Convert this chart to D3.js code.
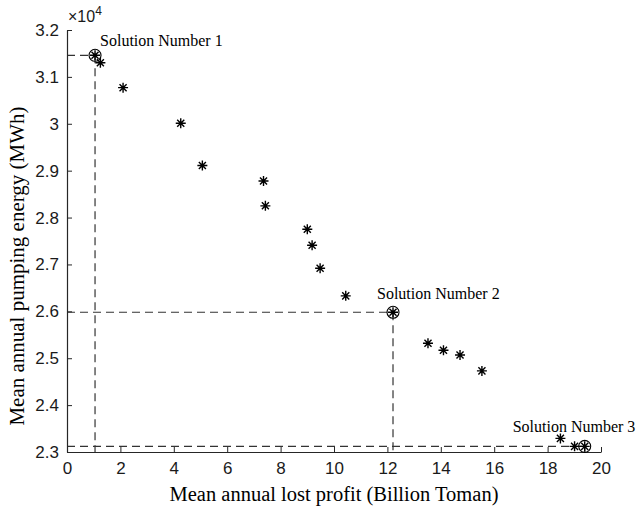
<!DOCTYPE html>
<html>
<head>
<meta charset="utf-8">
<script src="https://cdn.jsdelivr.net/npm/d3@7"></script>
<style>
  body { margin: 0; background: #fff; }
  svg { display: block; }
</style>
</head>
<body>
<div class="chartContainer"></div>
<script>
const WIDTH = 640;
const HEIGHT = 507;
const MARGIN = {left: 67, right: 39, top: 30, bottom: 55};

// Pareto front points: lost profit (Billion Toman) vs pumping energy (MWh)
const lostProfit = [1.05, 1.25, 2.1, 4.26, 5.07, 7.36, 7.43, 9.0, 9.18, 9.48, 10.44, 12.21, 13.52, 14.1, 14.72, 15.54, 18.48, 19.01, 19.39];
const pumpingEnergy = [31460, 31300, 30770, 30010, 29110, 28780, 28250, 27750, 27410, 26920, 26330, 25980, 25320, 25170, 25070, 24730, 23290, 23120, 23120];

// chosen solutions (index into the arrays above)
const solutionNames = ['Solution Number 1', 'Solution Number 2', 'Solution Number 3'];
const solutionIndex = [0, 11, 18];

const xTicks = [0, 2, 4, 6, 8, 10, 12, 14, 16, 18, 20];
const yTicks = [23000, 24000, 25000, 26000, 27000, 28000, 29000, 30000, 31000, 32000];
const yTickLabels = ['2.3', '2.4', '2.5', '2.6', '2.7', '2.8', '2.9', '3', '3.1', '3.2'];

const svg = d3.select('.chartContainer').append('svg')
  .attr('width', WIDTH)
  .attr('height', HEIGHT);

var x = d3.scaleLinear().domain([0, 20]).range([MARGIN.left, WIDTH - MARGIN.right]);
var y = d3.scaleLinear().domain([23000, 32000]).range([HEIGHT - MARGIN.bottom, MARGIN.top]);

var axisColor = '#262626';
var sans = "'Liberation Sans', Arial, sans-serif";
var serif = "'Liberation Serif', 'Times New Roman', serif";

// dashed guide lines for each solution
var dash = svg.append('g')
  .attr('stroke', '#333')
  .attr('stroke-width', 1.2)
  .attr('stroke-dasharray', '8,5')
  .attr('fill', 'none');

solutionIndex.forEach(function (i) {
  dash.append('line')
    .attr('x1', x(0)).attr('y1', y(pumpingEnergy[i]))
    .attr('x2', x(lostProfit[i])).attr('y2', y(pumpingEnergy[i]));
  dash.append('line')
    .attr('x1', x(lostProfit[i])).attr('y1', y(pumpingEnergy[i]))
    .attr('x2', x(lostProfit[i])).attr('y2', y(23000));
});

// x axis
var xAxis = d3.axisBottom(x).tickValues(xTicks).tickSizeInner(-5).tickSizeOuter(0).tickPadding(10);
var gx = svg.append('g')
  .attr('transform', 'translate(0,' + y(23000) + ')')
  .call(xAxis);

// y axis
var yAxis = d3.axisLeft(y).tickValues(yTicks).tickSizeInner(-5).tickSizeOuter(0).tickPadding(8)
  .tickFormat(function (d, i) { return yTickLabels[i]; });
var gy = svg.append('g')
  .attr('transform', 'translate(' + x(0) + ',0)')
  .call(yAxis);

[gx, gy].forEach(function (g) {
  g.select('.domain').attr('stroke', axisColor).attr('stroke-width', 1.2);
  g.selectAll('.tick line').attr('stroke', axisColor).attr('stroke-width', 1);
  g.selectAll('.tick text')
    .attr('fill', '#1a1a1a')
    .style('font-family', sans)
    .style('font-size', '17px');
});

// exponent label
var expo = svg.append('text')
  .attr('x', x(0) + 1)
  .attr('y', MARGIN.top - 8)
  .style('font-family', sans)
  .style('font-size', '16px')
  .attr('fill', '#1a1a1a');
expo.append('tspan').text('\u00d710');
expo.append('tspan').attr('dy', -7).style('font-size', '12px').text('4');

// asterisk markers
function asteriskPath(r) {
  var d = r * Math.SQRT1_2;
  return 'M' + (-r) + ',0L' + r + ',0M0,' + (-r) + 'L0,' + r +
    'M' + (-d) + ',' + (-d) + 'L' + d + ',' + d +
    'M' + (-d) + ',' + d + 'L' + d + ',' + (-d);
}

svg.append('g').selectAll('path')
  .data(lostProfit)
  .enter().append('path')
  .attr('d', asteriskPath(5))
  .attr('transform', function (d, i) { return 'translate(' + x(d) + ',' + y(pumpingEnergy[i]) + ')'; })
  .attr('stroke', '#000')
  .attr('stroke-width', 1.4)
  .attr('fill', 'none');

// circles around the chosen solutions
svg.append('g').selectAll('circle')
  .data(solutionIndex)
  .enter().append('circle')
  .attr('cx', function (i) { return x(lostProfit[i]); })
  .attr('cy', function (i) { return y(pumpingEnergy[i]); })
  .attr('r', 6)
  .attr('stroke', '#000')
  .attr('stroke-width', 1.1)
  .attr('fill', 'none');

// solution labels
var labelOffset = [[5, -9], [-16, -13], [-72, -14]];
svg.append('g').selectAll('text')
  .data(solutionIndex)
  .enter().append('text')
  .attr('x', function (i, k) { return x(lostProfit[i]) + labelOffset[k][0]; })
  .attr('y', function (i, k) { return y(pumpingEnergy[i]) + labelOffset[k][1]; })
  .style('font-family', serif)
  .style('font-size', '16px')
  .attr('fill', '#000')
  .text(function (i, k) { return solutionNames[k]; });

// axis titles
svg.append('text')
  .attr('x', (x(0) + x(20)) / 2)
  .attr('y', HEIGHT - 6)
  .attr('text-anchor', 'middle')
  .style('font-family', serif)
  .style('font-size', '20.5px')
  .attr('fill', '#000')
  .text('Mean annual lost profit (Billion Toman)');

svg.append('text')
  .attr('transform', 'translate(24,266) rotate(-90)')
  .attr('text-anchor', 'middle')
  .style('font-family', serif)
  .style('font-size', '21px')
  .attr('fill', '#000')
  .text('Mean annual pumping energy (MWh)');
</script>
</body>
</html>
